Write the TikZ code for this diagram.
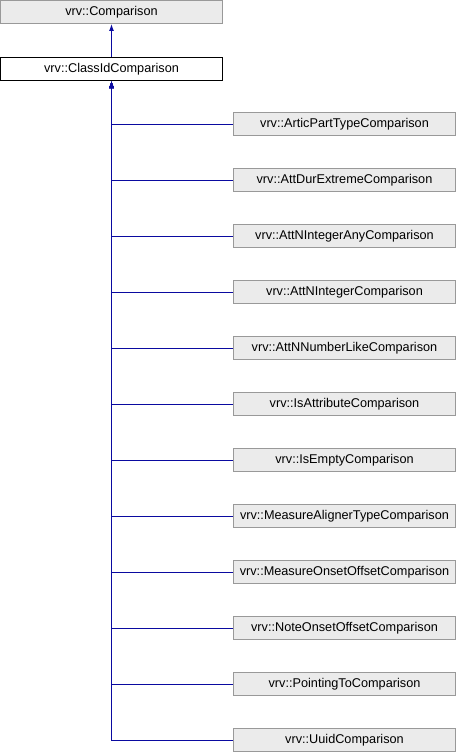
\documentclass[tikz,border=0pt]{standalone}
\usepackage{fontspec}
\setmainfont{Liberation Sans}
\usetikzlibrary{arrows.meta}
\definecolor{edgeblue}{HTML}{0A0AA0}
\definecolor{boxfill}{HTML}{EBEBEB}
\definecolor{boxline}{HTML}{999999}
\tikzset{
  cls/.style={draw=boxline, fill=boxfill, line width=1pt, minimum width=222pt, minimum height=23pt, inner sep=0pt, font=\fontsize{12.7}{14}\selectfont},
  cur/.style={cls, draw=black, fill=white},
  inh/.style={draw=edgeblue, line width=1pt, {Latex[length=7pt,width=5pt]}-},
}
\begin{document}
\begin{tikzpicture}[x=1pt,y=-1pt]
\useasboundingbox (0,0) rectangle (456,752);
\node[cls] (base) at (111.5,12) {vrv::Comparison};
\node[cur] (cid) at (111.5,69) {vrv::ClassIdComparison};
\foreach \n/\t [count=\i from 0] in {
 c1/vrv::ArticPartTypeComparison,
 c2/vrv::AttDurExtremeComparison,
 c3/vrv::AttNIntegerAnyComparison,
 c4/vrv::AttNIntegerComparison,
 c5/vrv::AttNNumberLikeComparison,
 c6/vrv::IsAttributeComparison,
 c7/vrv::IsEmptyComparison,
 c8/vrv::MeasureAlignerTypeComparison,
 c9/vrv::MeasureOnsetOffsetComparison,
 c10/vrv::NoteOnsetOffsetComparison,
 c11/vrv::PointingToComparison,
 c12/vrv::UuidComparison}{
  \node[cls] (\n) at (344.5,124+56*\i) {\t};
  \draw[inh] (cid.south) |- ([yshift=-0.5pt]\n.west);
}
\draw[inh] (base.south) -- (cid.north);
\end{tikzpicture}
\end{document}
